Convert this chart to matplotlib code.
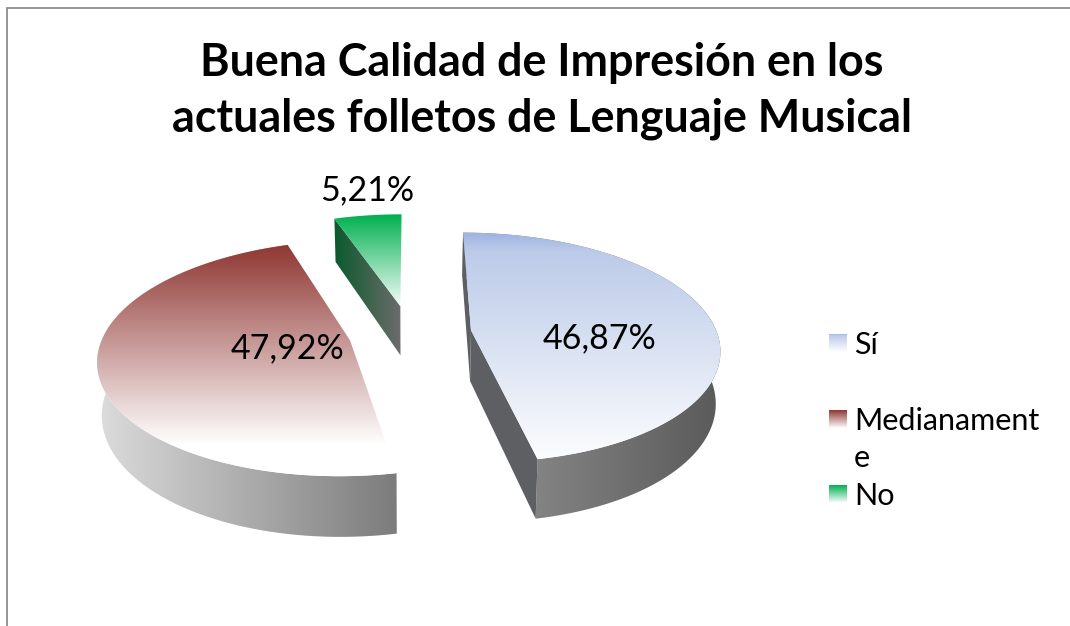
"""
exploded 3d look pie: buena calidad de impresion
axes are in pixels, the pie geometry is computed from the percentages
"""
import numpy as np
from matplotlib import pyplot as plt
from matplotlib.colors import LinearSegmentedColormap, to_rgb
from matplotlib.patches import Polygon

title = 'Buena Calidad de Impresión en los\nactuales folletos de Lenguaje Musical'
categories = ['Sí', 'Medianamente', 'No']
values = [46.87, 47.92, 5.21]

plt.rcParams['font.family'] = ['Lato', 'DejaVu Sans']

# styles
top_stops = [[(0, '#9db4e0'), (0.08, '#bccbe9'), (1, '#ffffff')],
             [(0, '#8f3632'), (1, '#ffffff')],
             [(0, '#00b050'), (1, '#ffffff')]]
top_end_y = [470, 445, 310]
wall_colors = [('#838383', '#5a5a5a'), ('#dcdcdc', '#7c7c7c'), ('#0a5a2c', '#6c6c6c')]
radial_color = '#5e5f63'
label_xy = [(600, 338), (288, 348), (367, 190)]
legend_y = [334, 410, 485]

# projection of the pie, pixels
cx, cy = 410, 333
fx, fy = 246, 113
k = 0.15
explode = 0.25
depth = 51


def project(u, v):
    w = 1 + k*v
    return cx + fx*u/w, cy - fy*v/w, w


def drop(x, y, w):
    # same point on the underside of the pie
    return cx + (x-cx)*0.985, y + depth/w


def grad_poly(ax, verts, stops, vertical, lims, z):
    cmap = LinearSegmentedColormap.from_list('g', [(p, to_rgb(c)) for p, c in stops], N=512)
    verts = np.asarray(verts)
    ext = [verts[:, 0].min()-1, verts[:, 0].max()+1, verts[:, 1].max()+1, verts[:, 1].min()-1]
    if vertical:
        ys = np.linspace(ext[3], ext[2], 512)
        data = np.clip((ys-lims[0])/(lims[1]-lims[0]), 0, 1)[:, None]
    else:
        xs = np.linspace(ext[0], ext[1], 512)
        data = np.clip((xs-lims[0])/(lims[1]-lims[0]), 0, 1)[None, :]
    im = ax.imshow(data, cmap=cmap, vmin=0, vmax=1, extent=ext, origin='upper',
                   aspect='auto', zorder=z, interpolation='bilinear')
    im.set_clip_path(Polygon(verts, closed=True, transform=ax.transData))
    return im


fig = plt.figure(figsize=(10.7, 6.26), dpi=100)
ax = fig.add_axes([0, 0, 1, 1])

edges = np.cumsum([0] + values)*3.6
z = 2
for i, val in enumerate(values):
    t0, t1 = edges[i], edges[i+1]
    mid = np.radians((t0+t1)/2)
    ou, ov = explode*np.sin(mid), explode*np.cos(mid)
    th = np.radians(np.linspace(t0, t1, 200))
    ax_, ay_, aw_ = project(ou, ov)
    ex, ey, ew = project(ou+np.sin(th), ov+np.cos(th))
    bx, by = drop(ex, ey, ew)
    abx, aby = drop(ax_, ay_, aw_)
    top = np.column_stack([np.r_[ax_, ex], np.r_[ay_, ey]])
    outer = np.vstack([np.column_stack([ex, ey]), np.column_stack([bx, by])[::-1]])
    c0, c1 = wall_colors[i]
    wall_stops = [(0, c0), (1, c1)]
    lo, hi = min(ex.min(), bx.min()), max(ex.max(), bx.max())
    if i == 0:
        # arc wall of the right slice gets darker going right, from its front corner
        grad_poly(ax, outer, wall_stops, False, (ex[-1], hi), z)
        for j in (-1, 0):
            wall = [(ax_, ay_), (ex[j], ey[j]), (bx[j], by[j]), (abx, aby)]
            ax.add_patch(Polygon(wall, closed=True, fc=radial_color, ec='none', zorder=z+0.1))
    elif i == 1:
        grad_poly(ax, outer, wall_stops, False, (lo, hi), z)
    else:
        wall = [(ax_, ay_), (ex[0], ey[0]), (bx[0], by[0]), (abx, aby)]
        grad_poly(ax, wall, wall_stops, False, (ex[0], ax_), z)
    grad_poly(ax, top, top_stops[i], True, (ey.min(), top_end_y[i]), z+0.2)
    ax.text(label_xy[i][0], label_xy[i][1], f'{val:.2f}%'.replace('.', ','),
            fontsize=24.5, ha='center', va='center', color='k', zorder=10)
    z += 1

# legend
for name, stops, ly in zip(categories, top_stops, legend_y):
    sw = [(829, ly), (847, ly), (847, ly+18), (829, ly+18)]
    grad_poly(ax, sw, stops, True, (ly, ly+18), 10)
    # legend box is too narrow for the long name, it breaks inside the word
    txt = name if len(name) <= 11 else name[:11] + '\n' + name[11:]
    ax.text(854, ly-3, txt, fontsize=22, ha='left', va='top', color='k', linespacing=1.4, zorder=10)

ax.text(542, 91, title, fontsize=32.3, fontweight='bold', ha='center', va='center',
        color='k', linespacing=1.42, zorder=10)

# chart area border, only top and left are in the picture
ax.plot([7, 7, 1070], [626, 8, 8], color='#8c8c8c', lw=1.3, solid_joinstyle='miter', zorder=1)

ax.set_xlim(0, 1070)
ax.set_ylim(626, 0)
ax.axis('off')
fig.savefig('out.png', dpi=100, facecolor='white')
